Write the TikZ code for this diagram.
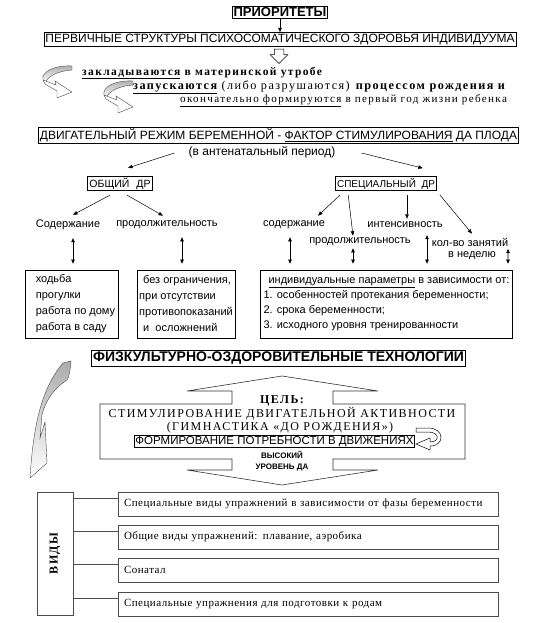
\documentclass[tikz,border=0pt]{standalone}
\usepackage{fontspec}
\usepackage{graphicx}
\setmainfont{Liberation Serif}
\setsansfont{Liberation Sans}
\newfontfamily\widefont[LetterSpace=12]{Liberation Serif}
\newfontfamily\itemfont[LetterSpace=4.5]{Liberation Serif}
\usetikzlibrary{shapes.arrows,arrows.meta}

\begin{document}
\begin{tikzpicture}[
	x=1pt,
	y=-1pt,
	box/.style={draw, line width=0.7pt, inner sep=1.5pt, font=\sffamily\fontsize{12}{14}\selectfont},
	lbl/.style={font=\sffamily\fontsize{11}{13}\selectfont, inner sep=1pt},
	para/.style={draw, line width=0.7pt, minimum height=68pt, align=left, font=\sffamily\fontsize{11}{16}\selectfont},
	verse/.style={anchor=west, inner sep=0pt, font=\widefont\fontsize{11.5}{13}\selectfont},
	kind/.style={draw=black!70, line width=0.8pt, minimum height=24pt, text width=368pt, inner xsep=6pt, align=left, font=\itemfont\fontsize{11}{13}\selectfont},
	arr/.style={-{Triangle[length=4.5pt,width=3.5pt]}, line width=0.5pt},
	darr/.style={{Triangle[length=4pt,width=3.5pt]}-{Triangle[length=4pt,width=3.5pt]}, line width=0.6pt},
	hollow/.style={single arrow, draw, line width=0.5pt, minimum height=13pt, inner sep=4.5pt, single arrow head extend=4pt},
	bent/.pic={
		\shadedraw[top color=gray!65, bottom color=white, draw=black!70, line width=0.4pt]
			(30,0) .. controls (12,-1) and (-1,6) .. (1,14) -- (3,17) .. controls (6,10) and (16,5) .. (30,4) -- cycle;
		\draw[fill=white, draw=black!70, line width=0.4pt]
			(1,14) -- (14,19) -- (13,15) -- (30,26) -- (15,32) -- (15,25) -- (3,18) -- cycle;
	}
	]
	\useasboundingbox (0,0) rectangle (541,623);

	% top block
	\node[box, line width=1.1pt, font=\sffamily\bfseries\fontsize{13}{15}\selectfont] (prio) at (280,12.5) {ПРИОРИТЕТЫ};
	\node[box] (perv) at (280,39.5) {ПЕРВИЧНЫЕ СТРУКТУРЫ ПСИХОСОМАТИЧЕСКОГО ЗДОРОВЬЯ ИНДИВИДУУМА};
	\draw[arr] (prio) -- (perv);
	\node[hollow, rotate=-90] (down) at (279,54) {};

	\pic at (42,66) {bent};
	\pic at (103,81) {bent};
	\node[verse] (lay) at (82,73) {\bfseries\underline{закладываются} в материнской утробе};
	\node[verse, font=\widefont\fontsize{12.2}{14}\selectfont] (start) at (133,87) {\textbf{\underline{запускаются}} (либо разрушаются) \textbf{процессом рождения и}};
	\node[verse, font=\widefont\fontsize{11.1}{13}\selectfont] (final) at (180,101) {\underline{окончательно формируются} в первый год жизни ребенка};

	% motor regime
	\node[box, minimum width=453pt] (dvig) at (278.5,135.5) {ДВИГАТЕЛЬНЫЙ РЕЖИМ БЕРЕМЕННОЙ - \underline{ФАКТОР СТИМУЛИРОВАНИЯ} ДА ПЛОДА};
	\node[lbl, font=\sffamily\fontsize{12}{14}\selectfont] (ante) at (262,152) {(в антенатальный период)};
	\node[box, font=\sffamily\fontsize{10.5}{12}\selectfont, minimum width=65pt] (obsh) at (120,183.5) {ОБЩИЙ\hspace{7pt}ДР};
	\node[box, font=\sffamily\fontsize{10}{12}\selectfont, minimum width=92pt] (spec) at (386,183.5) {СПЕЦИАЛЬНЫЙ\ \ ДР};
	\draw[arr] ([xshift=-13pt,yshift=-1pt]ante.west) -- ([xshift=8pt,yshift=8pt]obsh.north);
	\draw[arr] ([xshift=25pt,yshift=-1pt]ante.east) -- ([xshift=-14pt,yshift=8pt]spec.north east);

	\node[lbl] (cont1) at (68,225) {Содержание};
	\node[lbl] (dur1) at (167,225) {продолжительность};
	\node[lbl] (cont2) at (294,225) {содержание};
	\node[lbl] (int2) at (405,225) {интенсивность};
	\node[lbl] (dur2) at (360,242) {продолжительность};
	\node[lbl] (freq2) at (470,242) {кол-во занятий};
	\node[lbl] (week2) at (472,256) {в неделю};

	\draw[arr] ([xshift=-10pt,yshift=-4pt]obsh.south) -- ([xshift=5pt,yshift=4pt]cont1.north);
	\draw[arr] ([xshift=7pt,yshift=-4pt]obsh.south) -- ([xshift=-4pt,yshift=4pt]dur1.north);
	\draw[arr] ([xshift=5pt,yshift=-4pt]spec.south west) -- ([xshift=24pt,yshift=4pt]cont2.north);
	\draw[arr] ([xshift=13pt,yshift=-4pt]spec.south west) -- ([xshift=-7pt,yshift=1pt]dur2.north);
	\draw[arr] ([xshift=21pt,yshift=-4pt]spec.south) -- ([xshift=2pt,yshift=2pt]int2.north);
	\draw[arr] ([xshift=3pt,yshift=-4pt]spec.south east) -- ([xshift=2pt,yshift=3pt]freq2.north);

	\node[para, minimum width=90pt] (walk) at (72,304) {\hspace*{7pt}ходьба\\\hspace*{7pt}прогулки\\\hspace*{7pt}работа по дому\\\hspace*{7pt}работа в саду};
	\node[para, minimum width=98pt, inner xsep=1.5pt] (free) at (186,304) {\hspace*{4pt}без ограничения,\\при отсутствии\\противопоказаний\\\hspace*{4pt}и\ \ осложнений};
	\node[para, minimum width=247pt, inner xsep=3pt, font=\sffamily\fontsize{11}{15}\selectfont] (param) at (386.5,304) {\hspace*{5pt}\underline{индивидуальные параметры} в зависимости от:\\1. особенностей протекания беременности;\\2. срока беременности;\\3. исходного уровня тренированности};

	\draw[darr] ([xshift=5pt,yshift=-7pt]cont1.south) -- ([xshift=1pt,yshift=6pt]walk.north);
	\draw[darr] ([xshift=15pt,yshift=-7pt]dur1.south) -- ([xshift=-4pt,yshift=6pt]free.north);
	\draw[darr] ([xshift=-4pt,yshift=-7pt]cont2.south) -- ([xshift=-96.5pt,yshift=6pt]param.north);
	\draw[darr] ([xshift=-7pt,yshift=-1pt]dur2.south) -- ([xshift=-33.5pt,yshift=6pt]param.north);
	\draw[darr] ([xshift=22pt,yshift=-6pt]int2.south) -- ([xshift=40.5pt,yshift=6pt]param.north);
	\draw[darr] ([xshift=11pt,yshift=7pt]week2.east) -- ([xshift=121.5pt,yshift=6pt]param.north);

	% technologies
	\node[box, font=\sffamily\bfseries\fontsize{14}{16}\selectfont] (fiz) at (278.5,358.5) {ФИЗКУЛЬТУРНО-ОЗДОРОВИТЕЛЬНЫЕ ТЕХНОЛОГИИ};
	\shadedraw[top color=gray!65, bottom color=white, draw=black!70, line width=0.4pt]
		(63,363) -- (71,361) .. controls (70,372) and (69,377) .. (67,380) .. controls (57,386) and (46,398) .. (42,415)
		-- (40,438) -- (45,422) -- (47,463) -- (30,478) .. controls (33,430) and (40,390) .. (63,363) -- cycle;
	\draw[line width=0.6pt, black!80] (100,404) -- (232,404) -- (232,391) -- (187,391) -- (282,376) -- (378,391) -- (333,391) -- (333,404)
		-- (465,404) -- (465,459) -- (333,459) -- (333,470) -- (378,470) -- (282,485) -- (187,470) -- (232,470) -- (232,459) -- (100,459) -- cycle;
	\node[inner sep=0pt, font=\widefont\bfseries\fontsize{12}{14}\selectfont] (goal) at (282,401) {ЦЕЛЬ:};
	\node[inner sep=0pt, font=\widefont\fontsize{12}{14}\selectfont] (stim) at (282,414) {СТИМУЛИРОВАНИЕ ДВИГАТЕЛЬНОЙ АКТИВНОСТИ};
	\node[inner sep=0pt, font=\widefont\fontsize{12}{14}\selectfont] (gym) at (280,428) {(ГИМНАСТИКА «ДО РОЖДЕНИЯ»)};
	\node[draw, line width=0.6pt, inner sep=1pt, font=\sffamily\fontsize{11.5}{13}\selectfont] (need) at (274.5,441.5) {ФОРМИРОВАНИЕ ПОТРЕБНОСТИ В ДВИЖЕНИЯХ};
	\draw[fill=white, line width=0.5pt] (416,428) -- (428,428) .. controls (445,428) and (445,446) .. (430,446) -- (430,450) -- (416,444)
		-- (430,438) -- (430,442) .. controls (440,442) and (440,432) .. (428,432) -- (416,432) -- cycle;
	\node[inner sep=0pt, font=\sffamily\bfseries\fontsize{8}{9}\selectfont] (high) at (282,455) {ВЫСОКИЙ};
	\node[inner sep=0pt, font=\sffamily\bfseries\fontsize{8}{9}\selectfont] (lvl) at (282,467) {УРОВЕНЬ ДА};

	% kinds
	\node[draw=black!70, line width=0.8pt, minimum width=36pt, minimum height=123pt, inner sep=0pt] (vidy) at (55,553.5) {\rotatebox{90}{\widefont\bfseries\fontsize{12}{14}\selectfont ВИДЫ}};
	\node[kind] (v1) at (308,504) {Специальные виды упражнений в зависимости от фазы беременности};
	\node[kind] (v2) at (308,537) {Общие виды упражнений: плавание, аэробика};
	\node[kind] (v3) at (308,570) {Сонатал};
	\node[kind] (v4) at (308,604) {Специальные упражнения для подготовки к родам};
	\foreach \i in {1,...,4} {
		\coordinate (t\i) at ([yshift=-7pt]v\i.north west);
		\draw[black!70, line width=0.8pt] (t\i) -- (t\i -| vidy.east);
	}
\end{tikzpicture}
\end{document}
